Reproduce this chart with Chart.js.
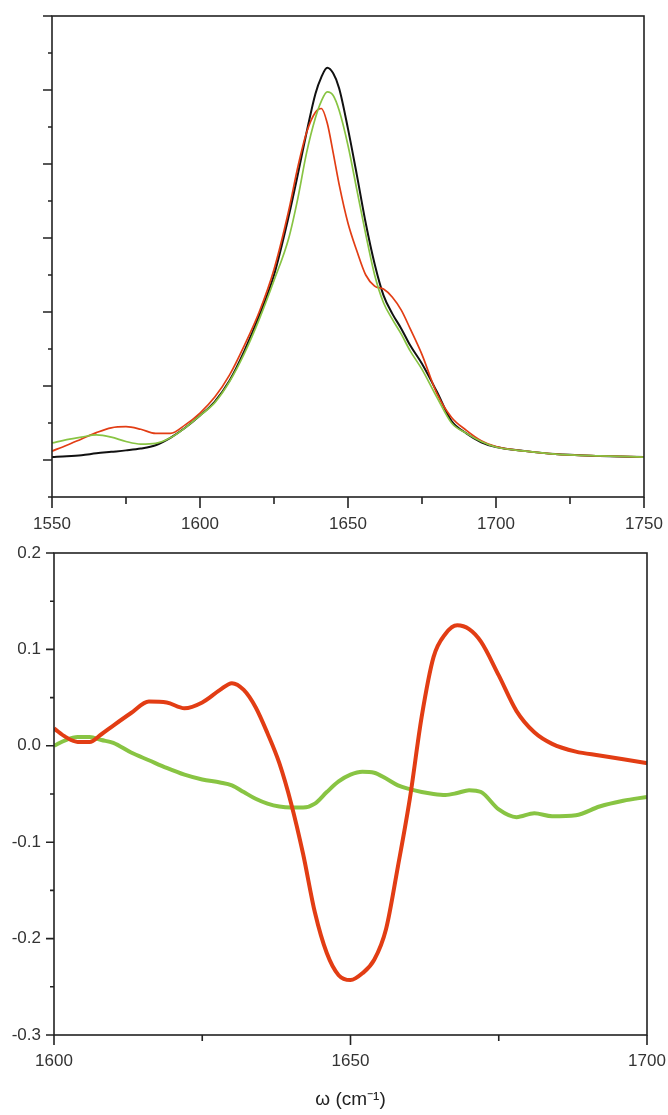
<!DOCTYPE html>
<html>
<head>
<meta charset="utf-8">
<script src="https://cdn.jsdelivr.net/npm/chart.js@4/dist/chart.umd.min.js"></script>
<style>
  body { margin: 0; background: #fff; }
  #wrap { position: relative; width: 668px; height: 1115px; }
  canvas { position: absolute; left: 0; }
  #absChart { top: 0; }
  #diffChart { top: 540px; }
</style>
</head>
<body>
<div id="wrap">
  <canvas id="absChart" width="668" height="540"></canvas>
  <canvas id="diffChart" width="668" height="575"></canvas>
</div>
<script>
// Amide I band (upper panel)
var absWavenumbers = [1550, 1555, 1560, 1565, 1570, 1575, 1580, 1585, 1590, 1595, 1600, 1605, 1610, 1615, 1620, 1625, 1630, 1633, 1636, 1639, 1641, 1643, 1645, 1647, 1650, 1653, 1656, 1659, 1662, 1665, 1668, 1671, 1675, 1680, 1685, 1690, 1695, 1700, 1710, 1720, 1735, 1750];
var absBlack = [0.08, 0.10, 0.13, 0.18, 0.22, 0.26, 0.31, 0.40, 0.60, 0.87, 1.20, 1.58, 2.15, 2.95, 3.90, 5.00, 6.60, 7.70, 8.85, 9.90, 10.35, 10.60, 10.45, 10.05, 8.95, 7.70, 6.40, 5.30, 4.45, 3.95, 3.55, 3.10, 2.60, 1.85, 1.05, 0.72, 0.48, 0.35, 0.24, 0.16, 0.11, 0.08];
var absRed = [0.24, 0.40, 0.57, 0.74, 0.87, 0.90, 0.83, 0.72, 0.72, 0.95, 1.27, 1.70, 2.30, 3.10, 4.00, 5.15, 6.75, 7.90, 8.85, 9.40, 9.50, 9.10, 8.30, 7.45, 6.40, 5.65, 5.00, 4.70, 4.62, 4.40, 4.05, 3.55, 2.85, 1.80, 1.15, 0.80, 0.52, 0.36, 0.24, 0.16, 0.11, 0.08];
var absGreen = [0.46, 0.55, 0.62, 0.68, 0.62, 0.50, 0.43, 0.45, 0.60, 0.87, 1.20, 1.55, 2.12, 2.88, 3.80, 4.85, 6.00, 7.05, 8.30, 9.25, 9.70, 9.95, 9.85, 9.45, 8.50, 7.30, 6.10, 5.00, 4.25, 3.80, 3.40, 2.95, 2.45, 1.70, 1.00, 0.72, 0.50, 0.35, 0.24, 0.16, 0.11, 0.08];
var absXLabels = [1550, 1600, 1650, 1700, 1750];

// Difference spectra (lower panel)
var diffWavenumbers = [1600, 1602, 1604, 1606, 1608, 1610, 1613, 1616, 1619, 1622, 1625, 1628, 1630, 1632, 1634, 1636, 1638, 1640, 1642, 1644, 1646, 1648, 1650, 1652, 1654, 1656, 1658, 1660, 1662, 1664, 1666, 1668, 1670, 1672, 1675, 1678, 1681, 1684, 1688, 1692, 1696, 1700];
var diffRed = [0.018, 0.009, 0.004, 0.004, 0.012, 0.021, 0.034, 0.046, 0.045, 0.039, 0.045, 0.058, 0.065, 0.058, 0.040, 0.013, -0.018, -0.060, -0.112, -0.173, -0.215, -0.238, -0.243, -0.236, -0.222, -0.190, -0.125, -0.055, 0.030, 0.092, 0.116, 0.125, 0.121, 0.108, 0.073, 0.036, 0.014, 0.002, -0.006, -0.010, -0.014, -0.018];
var diffGreen = [0.000, 0.006, 0.009, 0.009, 0.006, 0.003, -0.007, -0.015, -0.023, -0.030, -0.035, -0.038, -0.041, -0.048, -0.055, -0.060, -0.063, -0.064, -0.064, -0.060, -0.048, -0.037, -0.030, -0.027, -0.028, -0.034, -0.041, -0.045, -0.048, -0.050, -0.051, -0.049, -0.046, -0.048, -0.066, -0.074, -0.070, -0.073, -0.072, -0.063, -0.057, -0.053];
var diffXLabels = [1600, 1650, 1700];
var diffYLabels = [-0.3, -0.2, -0.1, 0.0, 0.1, 0.2];

var RED = '#e23d14';
var GREEN = '#88c443';
var TICK_FONT = { family: 'Liberation Sans, Arial, sans-serif', size: 17 };

function toPoints(xs, ys) {
  return xs.map(function (x, i) { return { x: x, y: ys[i] }; });
}

function hasLabel(list, v) {
  return list.some(function (l) { return Math.abs(l - v) < 1e-6; });
}

function onStep(v, step) {
  var q = v / step;
  return Math.abs(q - Math.round(q)) < 1e-6;
}

// fixed axis sizes, and no extra room for labels hanging past the ends
function fixWidth(w) {
  return function (s) { s.width = w; s.paddingTop = 0; s.paddingBottom = 0; };
}
function fixHeight(h) {
  return function (s) { s.height = h; s.paddingLeft = 0; s.paddingRight = 0; };
}

// box around the plot plus outward major/minor tick marks
var frameTicks = {
  id: 'frameTicks',
  afterDraw: function (chart, args, o) {
    var ctx = chart.ctx, a = chart.chartArea;
    var sx = chart.scales.x, sy = chart.scales.y;
    ctx.save();
    ctx.strokeStyle = '#222';
    ctx.lineWidth = 1.6;
    ctx.strokeRect(a.left, a.top, a.right - a.left, a.bottom - a.top);
    ctx.beginPath();
    sx.ticks.forEach(function (t) {
      var px = sx.getPixelForValue(t.value);
      var len = onStep(t.value, o.xStep) ? o.xMajor : o.xMinor;
      ctx.moveTo(px, a.bottom);
      ctx.lineTo(px, a.bottom + len);
    });
    sy.ticks.forEach(function (t) {
      var py = sy.getPixelForValue(t.value);
      var len = onStep(t.value, o.yStep) ? o.yMajor : o.yMinor;
      ctx.moveTo(a.left, py);
      ctx.lineTo(a.left - len, py);
    });
    ctx.stroke();
    ctx.restore();
  }
};

function lineSet(data, color, width, order) {
  return {
    data: data,
    borderColor: color,
    borderWidth: width,
    pointRadius: 0,
    fill: false,
    cubicInterpolationMode: 'monotone',
    order: order
  };
}

new Chart(document.getElementById('absChart'), {
  type: 'line',
  data: {
    datasets: [
      lineSet(toPoints(absWavenumbers, absBlack), '#111', 2, 2),
      lineSet(toPoints(absWavenumbers, absRed), RED, 1.7, 1),
      lineSet(toPoints(absWavenumbers, absGreen), GREEN, 1.7, 0)
    ]
  },
  options: {
    responsive: false,
    animation: false,
    layout: { padding: { top: 16, right: 24, bottom: 0, left: 0 } },
    plugins: {
      legend: { display: false },
      tooltip: { enabled: false },
      frameTicks: { xStep: 50, yStep: 2, xMajor: 11, xMinor: 7, yMajor: 9, yMinor: 4 }
    },
    scales: {
      x: {
        type: 'linear',
        min: 1550,
        max: 1750,
        grid: { display: false, drawTicks: false },
        border: { display: false },
        ticks: {
          stepSize: 25,
          padding: 17,
          maxRotation: 0,
          autoSkip: false,
          color: '#333',
          font: TICK_FONT,
          callback: function (v) { return hasLabel(absXLabels, v) ? String(v) : ''; }
        },
        afterFit: fixHeight(43)
      },
      y: {
        min: -1,
        max: 12,
        grid: { display: false, drawTicks: false },
        border: { display: false },
        ticks: { stepSize: 1, display: false },
        afterFit: fixWidth(52)
      }
    }
  },
  plugins: [frameTicks]
});

new Chart(document.getElementById('diffChart'), {
  type: 'line',
  data: {
    datasets: [
      lineSet(toPoints(diffWavenumbers, diffRed), RED, 4, 0),
      lineSet(toPoints(diffWavenumbers, diffGreen), GREEN, 4, 1)
    ]
  },
  options: {
    responsive: false,
    animation: false,
    layout: { padding: { top: 13, right: 21, bottom: 0, left: 0 } },
    plugins: {
      legend: { display: false },
      tooltip: { enabled: false },
      frameTicks: { xStep: 50, yStep: 0.1, xMajor: 10, xMinor: 6, yMajor: 8, yMinor: 4 }
    },
    scales: {
      x: {
        type: 'linear',
        min: 1600,
        max: 1700,
        grid: { display: false, drawTicks: false },
        border: { display: false },
        ticks: {
          stepSize: 25,
          padding: 16,
          maxRotation: 0,
          autoSkip: false,
          color: '#333',
          font: TICK_FONT,
          callback: function (v) { return hasLabel(diffXLabels, v) ? String(v) : ''; }
        },
        title: {
          display: true,
          text: 'ω (cm⁻¹)',
          color: '#222',
          font: { family: 'Liberation Sans, Arial, sans-serif', size: 19 },
          padding: { top: 0, bottom: 4 }
        },
        afterFit: fixHeight(80)
      },
      y: {
        min: -0.3,
        max: 0.2,
        grid: { display: false, drawTicks: false },
        border: { display: false },
        ticks: {
          stepSize: 0.05,
          padding: 13,
          autoSkip: false,
          color: '#333',
          font: TICK_FONT,
          callback: function (v) { return hasLabel(diffYLabels, v) ? v.toFixed(1) : ''; }
        },
        afterFit: fixWidth(54)
      }
    }
  },
  plugins: [frameTicks]
});
</script>
</body>
</html>
